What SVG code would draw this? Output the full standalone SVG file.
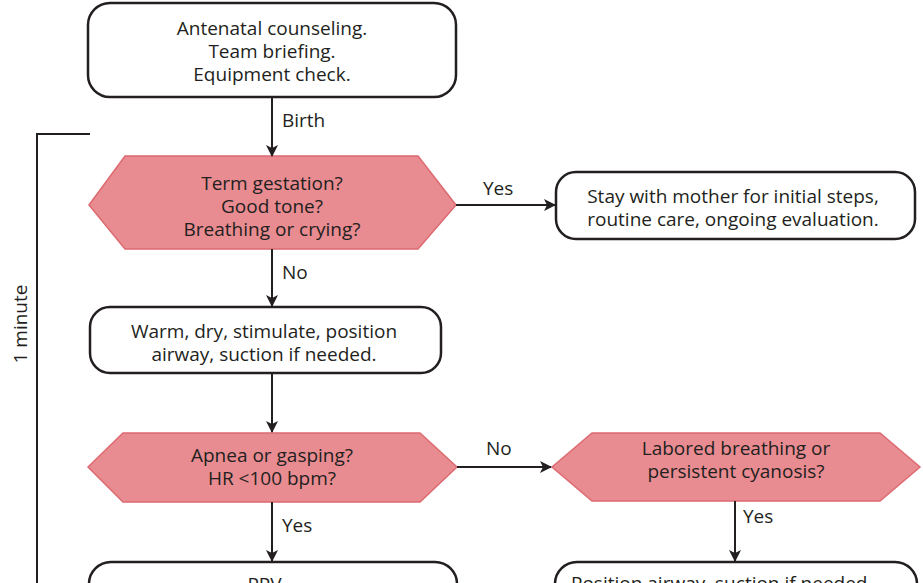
<svg xmlns="http://www.w3.org/2000/svg" width="923" height="583" viewBox="0 0 923 583">
  <defs>
    <marker id="arrow" viewBox="0 0 12 12" refX="11" refY="6" markerWidth="12" markerHeight="12" markerUnits="userSpaceOnUse" orient="auto">
      <path d="M0,0 L12,6 L0,12 L3,6 Z" fill="#231f20"/>
    </marker>
    <style>
      text { font-family: "Open Sans", "Noto Sans", "Liberation Sans", sans-serif; font-size: 19px; fill: #231f20; }
      .mid { text-anchor: middle; }
      .box { fill: #ffffff; stroke: #231f20; stroke-width: 2.5; }
      .dec { fill: #e98c91; stroke: #dc6a71; stroke-width: 1.5; }
      .edge { fill: none; stroke: #231f20; stroke-width: 2; marker-end: url(#arrow); }
      .plain { fill: none; stroke: #231f20; stroke-width: 2; }
    </style>
  </defs>
  <rect width="923" height="583" fill="#ffffff"/>

  <!-- time bracket -->
  <g id="bracket">
    <path class="plain" d="M90,134 H37 V583"/>
    <text class="mid" transform="translate(27,324) rotate(-90)">1 minute</text>
  </g>

  <g id="prep">
    <rect class="box" x="88" y="3" width="368" height="94" rx="22"/>
    <text class="mid" x="272" y="35">Antenatal counseling.</text>
    <text class="mid" x="272" y="58">Team briefing.</text>
    <text class="mid" x="272" y="81">Equipment check.</text>
  </g>

  <g id="q-term">
    <polygon class="dec" points="89,205 125,156 418,156 456,205 418,249 125,249"/>
    <text class="mid" x="272" y="190">Term gestation?</text>
    <text class="mid" x="272" y="213">Good tone?</text>
    <text class="mid" x="272" y="236">Breathing or crying?</text>
  </g>

  <g id="routine">
    <rect class="box" x="556" y="172" width="359" height="67" rx="20"/>
    <text class="mid" x="733" y="203">Stay with mother for initial steps,</text>
    <text class="mid" x="733" y="226">routine care, ongoing evaluation.</text>
  </g>

  <g id="initial">
    <rect class="box" x="90" y="307" width="351" height="66" rx="20"/>
    <text class="mid" x="264" y="338">Warm, dry, stimulate, position</text>
    <text class="mid" x="264" y="361">airway, suction if needed.</text>
  </g>

  <g id="q-apnea">
    <polygon class="dec" points="88,467 123,433 420,433 457,467 420,502 123,502"/>
    <text class="mid" x="272" y="462">Apnea or gasping?</text>
    <text class="mid" x="272" y="485">HR &lt;100 bpm?</text>
  </g>

  <g id="q-labored">
    <polygon class="dec" points="552,467 592,433 880,433 920,467 880,501 592,501"/>
    <text class="mid" x="736" y="455">Labored breathing or</text>
    <text class="mid" x="736" y="478">persistent cyanosis?</text>
  </g>

  <g id="ppv">
    <rect class="box" x="89" y="562" width="368" height="70" rx="22"/>
    <text class="mid" x="267" y="591">PPV.</text>
  </g>

  <g id="position">
    <rect class="box" x="555" y="562" width="362" height="70" rx="22"/>
    <text x="571" y="590">Position airway, suction if needed.</text>
  </g>

  <g id="connectors">
    <line class="edge" x1="272" y1="97" x2="272" y2="156"/>
    <text x="282" y="127">Birth</text>
    <line class="edge" x1="456" y1="205" x2="555" y2="205"/>
    <text x="483" y="195">Yes</text>
    <line class="edge" x1="272" y1="249" x2="272" y2="306"/>
    <text x="282" y="279">No</text>
    <line class="edge" x1="272" y1="373" x2="272" y2="432"/>
    <line class="edge" x1="457" y1="467" x2="551" y2="467"/>
    <text x="486" y="455">No</text>
    <line class="edge" x1="272" y1="502" x2="272" y2="561"/>
    <text x="282" y="532">Yes</text>
    <line class="edge" x1="735" y1="501" x2="735" y2="561"/>
    <text x="743" y="523">Yes</text>
  </g>
</svg>
